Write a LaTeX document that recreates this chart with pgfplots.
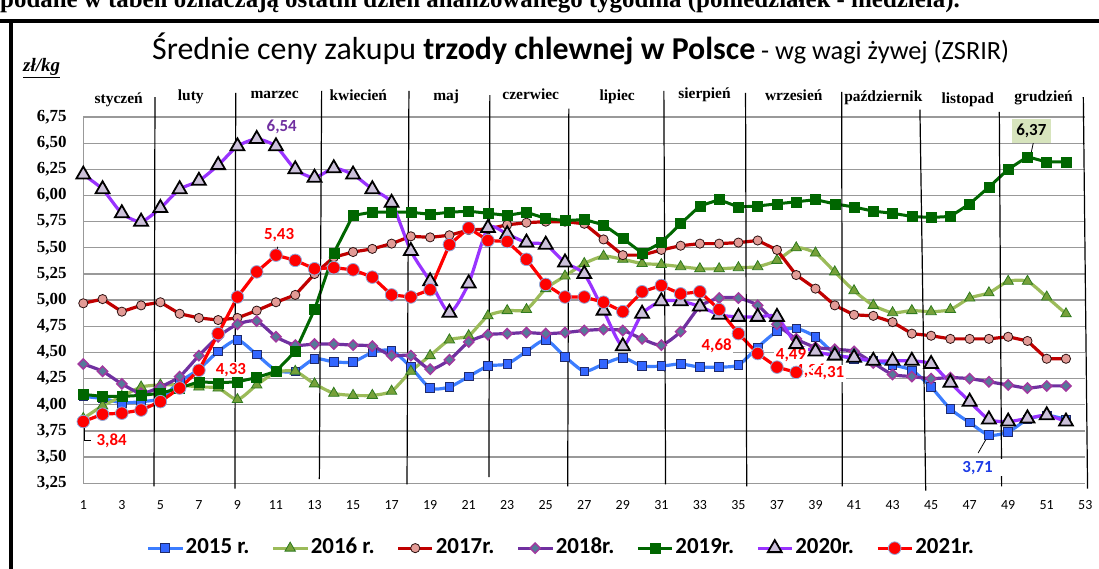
\documentclass[border=0pt]{standalone}
\usepackage{pgfplots}
\pgfplotsset{compat=1.18}
\usepackage{pgfplotstable}
\usepackage{fontspec}
\setmainfont{Carlito}
\newfontfamily\calib{Carlito}
\newfontfamily\camb{Liberation Serif}

\definecolor{c15}{HTML}{3C7DFF}\definecolor{c15m}{HTML}{3366FF}\definecolor{c15d}{HTML}{1F2A6B}
\definecolor{c16}{HTML}{9BBB59}\definecolor{c16m}{HTML}{77A13A}\definecolor{c16d}{HTML}{2F7A1F}
\definecolor{c17}{HTML}{C00000}\definecolor{c17m}{HTML}{E39B96}\definecolor{c17d}{HTML}{2B1010}
\definecolor{c18}{HTML}{7030A0}\definecolor{c18m}{HTML}{557A99}\definecolor{c18d}{HTML}{A2389F}
\definecolor{c19}{HTML}{006600}
\definecolor{c20}{HTML}{9933FF}\definecolor{c20m}{HTML}{CCC1DA}
\definecolor{c21}{HTML}{FF0000}\definecolor{c21d}{HTML}{8EA9DB}
\definecolor{box637}{HTML}{D7E4BD}
\definecolor{lblue}{HTML}{1E3CE6}

% weekly prices, zl/kg
\pgfplotstableread{
w y15 y16 y17 y18 y19 y20 y21
1 4.08 3.87 4.97 4.39 4.10 6.20 3.84
2 4.06 3.99 5.01 4.32 4.08 6.06 3.91
3 4.02 4.08 4.89 4.20 4.08 5.83 3.92
4 4.03 4.17 4.95 4.11 4.09 5.75 3.95
5 4.06 4.19 4.98 4.17 4.11 5.88 4.03
6 4.22 4.19 4.87 4.27 4.16 6.06 4.16
7 4.34 4.17 4.83 4.47 4.22 6.14 4.33
8 4.51 4.16 4.81 4.65 4.21 6.29 4.68
9 4.62 4.05 4.83 4.77 4.22 6.47 5.03
10 4.48 4.19 4.90 4.80 4.26 6.54 5.27
11 4.33 4.31 4.98 4.65 4.32 6.47 5.43
12 4.32 4.32 5.05 4.57 4.51 6.25 5.38
13 4.44 4.20 5.25 4.58 4.91 6.17 5.30
14 4.41 4.11 5.41 4.58 5.45 6.26 5.31
15 4.41 4.09 5.46 4.57 5.81 6.20 5.29
16 4.50 4.09 5.49 4.56 5.84 6.06 5.22
17 4.52 4.13 5.54 4.47 5.84 5.93 5.05
18 4.36 4.32 5.61 4.47 5.84 5.47 5.03
19 4.16 4.47 5.60 4.34 5.82 5.18 5.10
20 4.17 4.62 5.62 4.43 5.84 4.88 5.53
21 4.27 4.66 5.67 4.60 5.85 5.16 5.69
22 4.37 4.85 5.68 4.67 5.83 5.69 5.57
23 4.39 4.90 5.72 4.68 5.81 5.63 5.56
24 4.51 4.91 5.74 4.69 5.84 5.55 5.39
25 4.62 5.11 5.75 4.68 5.78 5.53 5.15
26 4.46 5.23 5.75 4.69 5.76 5.36 5.03
27 4.32 5.35 5.73 4.71 5.77 5.25 5.03
28 4.39 5.42 5.58 4.72 5.72 4.90 4.98
29 4.45 5.39 5.43 4.71 5.59 4.56 4.89
30 4.37 5.35 5.43 4.63 5.45 4.87 5.08
31 4.37 5.34 5.48 4.57 5.55 4.99 5.14
32 4.39 5.32 5.52 4.70 5.73 4.99 5.06
33 4.36 5.30 5.54 4.94 5.90 4.94 5.08
34 4.36 5.30 5.54 5.02 5.96 4.86 4.91
35 4.38 5.31 5.55 5.02 5.89 4.84 4.68
36 4.55 5.32 5.57 4.95 5.90 4.84 4.49
37 4.70 5.38 5.48 4.77 5.92 4.84 4.36
38 4.73 5.50 5.24 4.63 5.94 4.58 4.31
39 4.65 5.45 5.11 4.55 5.96 4.51 nan
40 4.49 5.27 4.95 4.53 5.92 4.47 nan
41 4.44 5.09 4.86 4.51 5.89 4.45 nan
42 4.42 4.95 4.85 4.40 5.85 4.42 nan
43 4.38 4.88 4.79 4.29 5.83 4.42 nan
44 4.33 4.90 4.68 4.27 5.80 4.42 nan
45 4.17 4.89 4.66 4.25 5.79 4.39 nan
46 3.96 4.91 4.63 4.26 5.80 4.21 nan
47 3.83 5.02 4.63 4.25 5.92 4.03 nan
48 3.71 5.07 4.63 4.22 6.08 3.86 nan
49 3.74 5.18 4.65 4.19 6.25 3.84 nan
50 3.86 5.18 4.61 4.16 6.37 3.87 nan
51 3.90 5.03 4.44 4.18 6.32 3.90 nan
52 3.86 4.87 4.44 4.18 6.32 3.84 nan
}\prices

\begin{document}
\begin{tikzpicture}
\path[use as bounding box] (0,0) rectangle (1099bp,569bp);
% header cut off at the top, frame
\node[anchor=base west, inner sep=0pt] at (0bp,561bp)
  {\camb\bfseries\fontsize{25}{30}\selectfont podane w tabeli oznaczają ostatni dzień analizowanego tygodnia (poniedziałek - niedziela).};
\draw[line width=4bp] (0bp,548bp) -- (1099bp,548bp);
\draw[line width=4bp] (11bp,548bp) -- (11bp,0bp);
% title
\node[anchor=base west, inner sep=0pt] at (152bp,509bp)
  {\calib\fontsize{32}{37}\selectfont Średnie ceny zakupu \textbf{trzody chlewnej w Polsce}\fontsize{26.4}{31}\selectfont{} - wg wagi żywej (ZSRIR)};
\node[anchor=base west, inner sep=0pt] at (23bp,497bp)
  {\camb\bfseries\itshape\fontsize{19}{22}\selectfont\underline{zł/kg}};

\begin{axis}[
  at={(83.3bp,85.7bp)}, anchor=south west,
  width=1002bp, height=366.3bp, scale only axis,
  xmin=1, xmax=53, ymin=3.25, ymax=6.75,
  xtick={1,3,...,53},
  ytick={3.25,3.5,3.75,4,4.25,4.5,4.75,5,5.25,5.5,5.75,6,6.25,6.5,6.75},
  axis lines=left,
  axis line style={-, draw=black!40, line width=1.3bp},
  ymajorgrids, major grid style={draw=black!40, line width=1.3bp},
  major tick length=0pt,
  clip=false,
  /pgf/number format/assume math mode=true,
  xticklabel style={font=\calib\fontsize{14}{16}\selectfont, anchor=north, inner sep=0pt, yshift=-17bp},
  yticklabel style={font=\camb\bfseries\fontsize{17}{20}\selectfont, anchor=east, inner sep=0pt, xshift=-16.5bp},
  yticklabel={\pgfmathprintnumber[fixed,fixed zerofill,precision=2,use comma]{\tick}},
  legend columns=-1,
  legend cell align=left,
  legend style={at={(0.477,-0.177)}, anchor=center, draw=none, fill=none,
    font=\calib\bfseries\fontsize{23}{27}\selectfont, inner sep=0pt, column sep=0pt,
    /tikz/every even column/.append style={column sep=20bp},
    nodes={inner sep=2bp, text height=15bp, text depth=4bp}},
  legend image code/.code={
    \path[draw=none, fill=none] (0bp,-9bp) rectangle (34bp,9bp);
    \draw[mark repeat=2,mark phase=2] plot coordinates {(0bp,0bp)(17bp,0bp)(34bp,0bp)};},
]
\addplot[color=c15, line width=3.2bp, smooth, tension=0.4, mark=square*, mark size=4.3bp,
  mark options={fill=c15m, draw=c15d, line width=0.8bp}] table[x=w,y=y15]{\prices};
\addlegendentry{2015 r.}
\addplot[color=c16, line width=3.2bp, smooth, tension=0.4, mark=triangle*, mark size=6bp,
  mark options={fill=c16m, draw=c16d, line width=0.8bp}] table[x=w,y=y16]{\prices};
\addlegendentry{2016 r.}
\addplot[color=c17, line width=3.2bp, mark=*, mark size=4.6bp,
  mark options={fill=c17m, draw=c17d, line width=0.8bp}] table[x=w,y=y17]{\prices};
\addlegendentry{2017r.}
\addplot[color=c18, line width=3.2bp, smooth, tension=0.4, mark=square*, mark size=3.6bp,
  mark options={rotate=45, fill=c18m, draw=c18d, line width=1.5bp}] table[x=w,y=y18]{\prices};
\addlegendentry{2018r.}
\addplot[color=c19, line width=3bp, mark=square*, mark size=5bp,
  mark options={fill=c19, draw=c19, line width=0.5bp}] table[x=w,y=y19]{\prices};
\addlegendentry{2019r.}
\addplot[color=c20, line width=3.2bp, smooth, tension=0.4, mark=triangle*, mark size=8bp,
  mark options={fill=c20m, draw=black, line width=1.8bp}] table[x=w,y=y20]{\prices};
\addlegendentry{2020r.}
\addplot[color=c21, line width=3.2bp, mark=*, mark size=6.3bp,
  mark options={fill=c21, draw=c21d, line width=0.8bp}] table[x=w,y=y21]{\prices};
\addlegendentry{2021r.}

% month separators
\draw[line width=1.2bp] (axis cs:4.72,6.94) -- (axis cs:4.67,3.22);
\draw[line width=1.2bp] (axis cs:8.91,6.98) -- (axis cs:8.87,3.20);
\draw[line width=1.2bp] (axis cs:13.37,7.0) -- (axis cs:13.25,3.29);
\draw[line width=1.2bp] (axis cs:17.9,7.0) -- (axis cs:17.8,3.24);
\draw[line width=1.2bp] (axis cs:22.1,6.96) -- (axis cs:22.05,3.31);
\draw[line width=1.2bp] (axis cs:26.2,6.83) -- (axis cs:26.14,3.22);
\draw[line width=1.2bp] (axis cs:31.13,7.0) -- (axis cs:31.22,3.24);
\draw[line width=1.2bp] (axis cs:35.37,6.98) -- (axis cs:35.43,3.22);
\draw[line width=1.2bp] (axis cs:40.36,6.99) -- (axis cs:40.39,3.22);
\draw[line width=1.2bp] (axis cs:44.42,6.82) -- (axis cs:44.72,3.18);
\draw[line width=1.2bp] (axis cs:48.54,6.80) -- (axis cs:48.66,3.22);
\draw[line width=1.2bp] (axis cs:52.9,6.94) -- (axis cs:53.12,3.20);

% month names
\begin{scope}[every node/.style={anchor=base, inner sep=0pt, font=\camb\bfseries\fontsize{15.5}{18}\selectfont}]
\node at (axis cs:2.84,6.88) {styczeń};
\node at (axis cs:6.58,6.91) {luty};
\node at (axis cs:10.93,6.93) {marzec};
\node at (axis cs:15.27,6.91) {kwiecień};
\node at (axis cs:19.83,6.91) {maj};
\node at (axis cs:24.22,6.92) {czerwiec};
\node at (axis cs:28.71,6.91) {lipiec};
\node at (axis cs:33.24,6.93) {sierpień};
\node at (axis cs:37.87,6.91) {wrzesień};
\node at (axis cs:42.52,6.90) {październik};
\node at (axis cs:46.9,6.88) {listopad};
\node at (axis cs:50.84,6.90) {grudzień};
\end{scope}

% data labels
\begin{scope}[every node/.style={inner sep=1.5bp, font=\calib\bfseries\fontsize{17}{20}\selectfont}]
\node[text=c18] at (axis cs:11.3,6.657) {6,54};
\draw[line width=0.8bp] (axis cs:11.09,5.51) -- (axis cs:11.04,5.45);
\node[text=c21] at (axis cs:11.16,5.62) {5,43};
\draw[line width=0.8bp] (axis cs:50.3,6.50) -- (axis cs:50.15,6.37);
\node[fill=box637, inner xsep=4.5bp, inner ysep=5bp] at (axis cs:50.2,6.62) {6,37};
\draw[line width=0.8bp] (axis cs:1.04,3.79) -- (axis cs:1.04,3.66) -- (axis cs:1.38,3.66);
\node[text=c21] at (axis cs:2.47,3.655) {3,84};
\node[text=c21, fill=white] at (axis cs:8.66,4.33) {4,33};
\node[text=c21, fill=white] at (axis cs:33.87,4.56) {4,68};
\node[text=c21, fill=white] at (axis cs:37.73,4.475) {4,49};
\node[text=c21, fill=white] at (axis cs:38.73,4.327) {4,36};
\node[text=c21, fill=white] at (axis cs:39.71,4.30) {4,31};
\node[text=lblue, fill=white, inner xsep=10bp] at (axis cs:47.41,3.40) {3,71};
\draw[line width=0.8bp] (axis cs:47.44,3.54) -- (axis cs:47.88,3.68);
\end{scope}
\end{axis}
\end{tikzpicture}
\end{document}
